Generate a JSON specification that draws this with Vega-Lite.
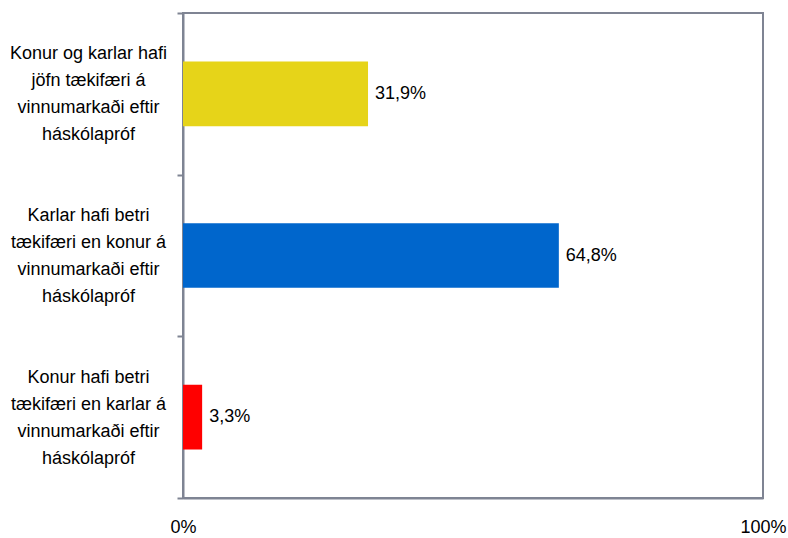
{
  "$schema": "https://vega.github.io/schema/vega-lite/v6.json",
  "width": 580,
  "height": 485,
  "autosize": {"type": "none"},
  "padding": {"left": 183, "top": 13, "right": 25, "bottom": 40},
  "background": "white",
  "config": {
    "view": {"stroke": "#7f8493", "strokeWidth": 2},
    "font": "Liberation Sans, sans-serif"
  },
  "data": {
    "values": [
      {"cat": "Konur og karlar hafi|jöfn tækifæri á|vinnumarkaði eftir|háskólapróf", "value": 0.319, "label": "31,9%", "color": "yellow"},
      {"cat": "Karlar hafi betri|tækifæri en konur á|vinnumarkaði eftir|háskólapróf", "value": 0.648, "label": "64,8%", "color": "blue"},
      {"cat": "Konur hafi betri|tækifæri en karlar á|vinnumarkaði eftir|háskólapróf", "value": 0.033, "label": "3,3%", "color": "red"}
    ]
  },
  "encoding": {
    "y": {
      "field": "cat", "type": "nominal", "sort": null, "title": null,
      "scale": {"paddingInner": 0, "paddingOuter": 0},
      "axis": {
        "labelExpr": "split(datum.label, '|')",
        "labelAlign": "center",
        "labelBaseline": "middle",
        "labelOffset": -40,
        "labelPadding": 89,
        "labelLimit": 300,
        "labelFontSize": 18,
        "labelColor": "#000000",
        "labelLineHeight": 27,
        "tickBand": "extent",
        "tickSize": 6,
        "tickColor": "#7f8493",
        "tickWidth": 2,
        "domainColor": "#7f8493",
        "domainWidth": 2
      }
    },
    "x": {
      "field": "value", "type": "quantitative", "title": null,
      "scale": {"domain": [0, 1]},
      "axis": {
        "values": [0, 1],
        "format": ".0%",
        "ticks": false,
        "grid": false,
        "labelPadding": 20,
        "labelFontSize": 18,
        "labelColor": "#000000",
        "labelFlush": false,
        "domainColor": "#7f8493",
        "domainWidth": 2
      }
    }
  },
  "layer": [
    {
      "mark": {"type": "bar", "height": {"band": 0.4}},
      "encoding": {
        "color": {
          "field": "color", "type": "nominal", "legend": null,
          "scale": {"domain": ["yellow", "blue", "red"], "range": ["#E6D419", "#0066CC", "#FF0000"]}
        }
      }
    },
    {
      "mark": {"type": "text", "align": "left", "baseline": "middle", "dx": 7, "fontSize": 18, "color": "#000000"},
      "encoding": {"text": {"field": "label"}}
    }
  ]
}
